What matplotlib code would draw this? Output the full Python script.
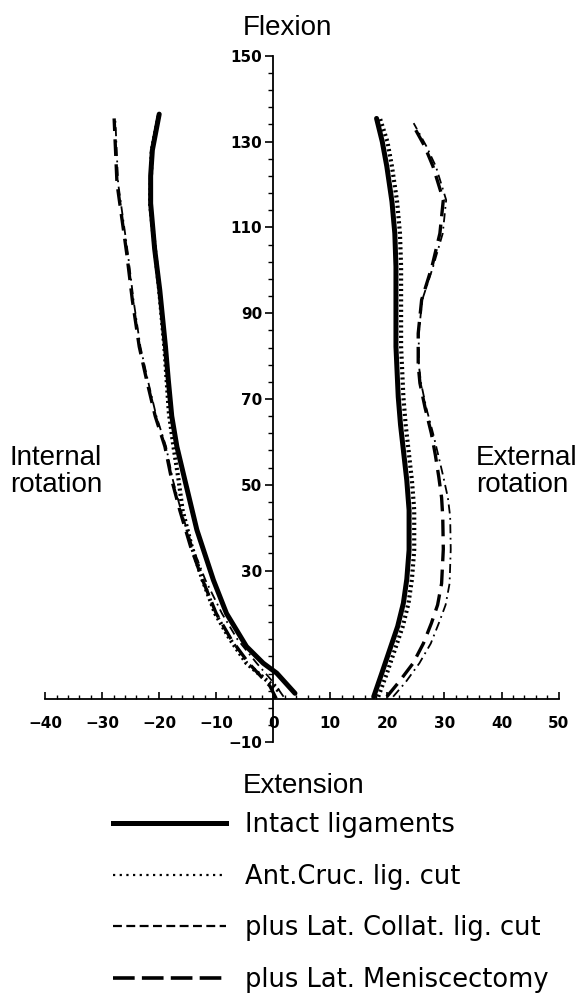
import matplotlib
matplotlib.use("Agg")
import matplotlib.pyplot as plt
from matplotlib.lines import Line2D
from matplotlib.ticker import FixedLocator

# ---------------- data ----------------
# Internal rotation branch (left): flexion angle (y) vs rotation (x), degrees
intact_L_y = [1.4, 6.1, 8.4, 12.3, 20.0, 27.8, 39.5, 51.1, 58.9, 66.0, 74.4, 82.2, 95.4, 105.0, 115.6, 122.0, 128.0, 136.4]
intact_L_x = [3.8, 0.6, -1.75, -4.7, -8.2, -10.5, -13.4, -15.5, -16.9, -17.8, -18.4, -18.9, -19.9, -20.8, -21.5, -21.5, -21.2, -20.0]

acl_L_y = [2.0, 3.1, 8.4, 14.0, 20.0, 27.8, 35.6, 44.1, 51.1, 58.9, 66.7, 74.4, 82.2, 95.4, 115.6, 128.0, 136.0]
acl_L_x = [0.9, 0.0, -4.7, -7.6, -10.2, -12.4, -14.3, -15.9, -16.6, -17.5, -18.3, -18.7, -19.1, -20.0, -21.6, -21.3, -20.1]

collat_L_y = [0.6, 3.5, 8.4, 14.0, 20.0, 27.8, 35.6, 44.1, 51.1, 58.9, 66.0, 74.4, 82.2, 93.0, 104.0, 120.3, 135.4]
collat_L_x = [1.8, 0.3, -2.9, -6.3, -9.0, -11.9, -14.2, -16.2, -17.6, -18.8, -20.5, -22.0, -23.3, -24.5, -25.5, -27.2, -27.7]

menis_L_y = [0.2, 3.1, 8.4, 14.0, 20.0, 27.8, 35.6, 44.1, 51.1, 58.9, 66.0, 74.4, 82.2, 93.0, 104.0, 120.3, 135.4]
menis_L_x = [0.5, -0.6, -4.3, -7.4, -10.0, -12.4, -14.5, -16.4, -17.8, -19.0, -20.7, -22.2, -23.5, -24.7, -25.7, -27.4, -27.9]

# External rotation branch (right)
intact_R_y = [0.6, 6.0, 12.3, 17.0, 22.4, 28.0, 34.8, 44.1, 51.0, 58.1, 64.0, 70.5, 82.2, 90.0, 100.8, 108.6, 116.0, 124.2, 130.0, 135.4]
intact_R_x = [17.6, 19.0, 20.6, 21.8, 22.8, 23.4, 23.8, 23.8, 23.4, 22.8, 22.3, 21.9, 21.5, 21.5, 21.5, 21.3, 20.8, 19.9, 19.1, 18.1]

acl_R_y = [0.6, 6.0, 12.3, 17.0, 22.4, 28.0, 34.8, 44.1, 51.0, 58.1, 64.0, 70.5, 82.2, 90.0, 100.8, 108.6, 116.0, 124.2, 130.0, 135.8]
acl_R_x = [18.4, 19.9, 21.5, 22.7, 23.7, 24.3, 24.7, 24.7, 24.3, 23.7, 23.2, 22.8, 22.4, 22.4, 22.4, 22.2, 21.7, 20.8, 20.0, 18.6]

collat_R_y = [0.6, 4.0, 8.4, 13.0, 17.7, 22.0, 27.0, 35.0, 42.6, 47.0, 51.9, 57.0, 62.0, 68.0, 73.7, 78.0, 85.3, 93.1, 100.8, 108.6, 116.4, 124.2, 129.0, 134.3]
collat_R_x = [21.0, 23.2, 25.6, 27.6, 29.0, 30.2, 30.9, 31.1, 31.0, 30.6, 29.8, 28.9, 28.0, 26.8, 25.9, 25.5, 25.5, 26.1, 28.0, 29.7, 30.3, 28.5, 26.8, 24.6]

menis_R_y = [0.6, 4.0, 8.4, 13.0, 17.7, 22.0, 27.0, 35.0, 42.6, 47.0, 51.9, 57.0, 62.0, 68.0, 73.7, 78.0, 85.3, 93.1, 100.8, 108.6, 116.4, 124.2, 129.0, 134.3]
menis_R_x = [19.9, 22.0, 24.5, 26.3, 27.7, 28.8, 29.5, 29.8, 29.7, 29.5, 29.0, 28.4, 27.7, 26.6, 25.7, 25.4, 25.4, 26.0, 27.8, 29.2, 29.8, 28.0, 26.5, 24.3]

series_labels = ["Intact ligaments", "Ant.Cruc. lig. cut",
                 "plus Lat. Collat. lig. cut", "plus Lat. Meniscectomy"]

x_tick_labels = [-40, -30, -20, -10, 0, 10, 20, 30, 40, 50]
y_tick_labels = [-10, 30, 50, 70, 90, 110, 130, 150]

# ---------------- figure ----------------
W, H, DPI = 584, 1005, 100
fig = plt.figure(figsize=(W / DPI, H / DPI), dpi=DPI)
ax = fig.add_axes([0, 0, 1, 1])
ax.set_facecolor("white")

x0_px, y0_px = 273.3, 699.3
sx, sy = 5.705, 4.29
ax.set_xlim(-x0_px / sx, (W - x0_px) / sx)
ax.set_ylim(-(H - y0_px) / sy, y0_px / sy)

k = "black"
solid = dict(color=k, lw=3.6, solid_capstyle="round", solid_joinstyle="round", zorder=4)
dotted = dict(color=k, lw=3.0, linestyle=(0, (0.5, 0.75)), dash_capstyle="butt",
              dash_joinstyle="round", zorder=3)
collat = dict(color=k, lw=1.3, linestyle=(0, (5, 2.5, 1, 2.5)),
              dash_joinstyle="round", zorder=3)
menis = dict(color=k, lw=2.4, linestyle=(0, (5, 2.5)), dash_joinstyle="round", zorder=3)

ax.plot(intact_L_x, intact_L_y, **solid)
ax.plot(intact_R_x, intact_R_y, **solid)
ax.plot(acl_L_x, acl_L_y, **dotted)
ax.plot(acl_R_x, acl_R_y, **dotted)
ax.plot(collat_L_x, collat_L_y, **collat)
ax.plot(collat_R_x, collat_R_y, **collat)
ax.plot(menis_L_x, menis_L_y, **menis)
ax.plot(menis_R_x, menis_R_y, **menis)

# axes through the origin
for s in ("top", "right"):
    ax.spines[s].set_visible(False)
ax.spines["left"].set_position(("data", 0))
ax.spines["bottom"].set_position(("data", 0))
ax.spines["left"].set_bounds(-10, 150)
ax.spines["bottom"].set_bounds(-40, 50)
for s in ("left", "bottom"):
    ax.spines[s].set_linewidth(1.3)
    ax.spines[s].set_zorder(2)

ax.xaxis.set_major_locator(FixedLocator(x_tick_labels))
ax.xaxis.set_minor_locator(FixedLocator(list(range(-40, 51, 2))))
ax.set_xticklabels([f"{v}".replace("-", "\u2212") for v in x_tick_labels])
ax.yaxis.set_major_locator(FixedLocator(y_tick_labels))
ax.yaxis.set_minor_locator(FixedLocator(list(range(-10, 151, 4))))
ax.set_yticklabels([f"{v}".replace("-", "\u2212") for v in y_tick_labels])

ax.tick_params(axis="x", which="major", direction="in", length=5, width=1.2, pad=12)
ax.tick_params(axis="x", which="minor", direction="in", length=3, width=1.0)
ax.tick_params(axis="y", which="major", direction="out", length=6, width=1.2, pad=2)
ax.tick_params(axis="y", which="minor", direction="out", length=3.5, width=1.0)
for lab in ax.get_xticklabels() + ax.get_yticklabels():
    lab.set_fontfamily("DejaVu Sans")
    lab.set_fontweight("bold")
    lab.set_fontsize(11)

# annotations
big = dict(family="Liberation Sans", fontsize=20, color=k)
fig.text(287 / W, 1 - 35 / H, "Flexion", ha="center", va="baseline", **big)
fig.text(304 / W, 1 - 793 / H, "Extension", ha="center", va="baseline", **big)
fig.text(10 / W, 1 - 471 / H, "Internal\nrotation", ha="left", va="center",
         linespacing=1.05, **big)
fig.text(476 / W, 1 - 471 / H, "External\nrotation", ha="left", va="center",
         linespacing=1.05, **big)

# legend
handles = [
    Line2D([], [], color=k, lw=3.6),
    Line2D([], [], color=k, lw=1.6, linestyle=(0, (1, 2))),
    Line2D([], [], color=k, lw=1.6, linestyle=(0, (4, 2))),
    Line2D([], [], color=k, lw=2.6, linestyle=(0, (6, 2))),
]
fig.legend(handles, series_labels, loc="upper left",
           bbox_to_anchor=(113 / W, 1 - 812 / H), bbox_transform=fig.transFigure,
           frameon=False, borderpad=0, borderaxespad=0, handlelength=4.4,
           handletextpad=0.75, labelspacing=1.0,
           prop=dict(family="DejaVu Sans", size=18.5))

fig.savefig("out.png", dpi=DPI, facecolor="white")
